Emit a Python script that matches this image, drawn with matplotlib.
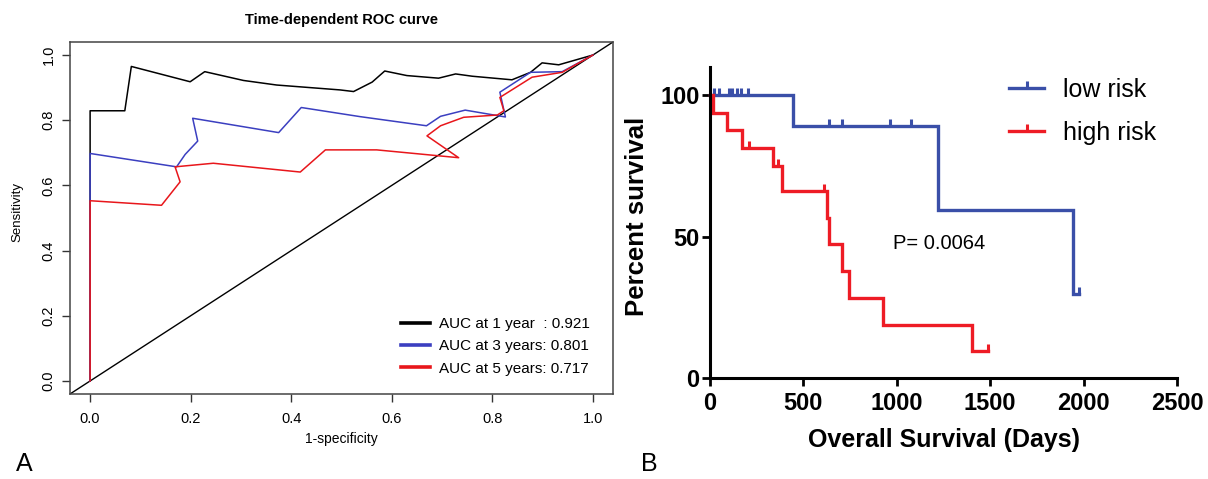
import matplotlib
matplotlib.use('Agg')
import matplotlib.pyplot as plt
from matplotlib.lines import Line2D
import numpy as np

plt.rcParams['font.family'] = ['Liberation Sans', 'DejaVu Sans']

# ---- panel A: time-dependent ROC (1-specificity, sensitivity) ----
fpr_1y = [0, 0, 0.069, 0.082, 0.199, 0.228, 0.305, 0.371, 0.497, 0.524, 0.561,
          0.586, 0.630, 0.693, 0.727, 0.760, 0.839, 0.876, 0.899, 0.932, 1.0]
tpr_1y = [0, 0.829, 0.829, 0.965, 0.918, 0.949, 0.922, 0.908, 0.893, 0.888, 0.917,
          0.951, 0.937, 0.929, 0.942, 0.935, 0.924, 0.947, 0.976, 0.970, 1.0]

fpr_3y = [0, 0, 0.172, 0.189, 0.214, 0.204, 0.375, 0.420, 0.537, 0.669, 0.697,
          0.746, 0.826, 0.815, 0.876, 0.939, 1.0]
tpr_3y = [0, 0.698, 0.657, 0.695, 0.736, 0.806, 0.762, 0.839, 0.811, 0.783, 0.812,
          0.831, 0.810, 0.886, 0.947, 0.949, 1.0]

fpr_5y = [0, 0, 0.142, 0.179, 0.169, 0.245, 0.418, 0.468, 0.570, 0.733, 0.670,
          0.697, 0.743, 0.810, 0.823, 0.815, 0.879, 0.939, 1.0]
tpr_5y = [0, 0.553, 0.539, 0.611, 0.657, 0.668, 0.641, 0.709, 0.709, 0.685, 0.752,
          0.783, 0.809, 0.816, 0.829, 0.870, 0.932, 0.947, 1.0]

roc_labels = ['AUC at 1 year  : 0.921', 'AUC at 3 years: 0.801', 'AUC at 5 years: 0.717']
roc_colors = ['black', '#3b3fc0', '#e8161b']

# ---- panel B: Kaplan-Meier ----
low_time = [0, 443, 1222, 1941, 1975]
low_surv = [100, 88.9, 59.3, 29.6, 29.6]
low_cens = [20, 50, 100, 120, 145, 165, 205, 637, 708, 964, 1074, 1975]

high_time = [0, 14, 89, 170, 339, 384, 625, 639, 705, 746, 926, 1402, 1487]
high_surv = [100, 93.8, 87.5, 81.3, 75.0, 66.0, 56.6, 47.2, 37.8, 28.3, 18.9, 9.4, 9.4]
high_cens = [209, 362, 610, 1487]

km_blue = '#3a4fa8'
km_red = '#ee1c25'

W, H = 1208, 479
fig = plt.figure(figsize=(W / 100, H / 100), dpi=100)


def fx(px):
    return px / W


def fy(py):
    return 1 - py / H


# ---------------- panel A ----------------
ax1 = fig.add_axes([fx(70), fy(394), fx(613) - fx(70), fy(42) - fy(394)])
ax1.set_xlim(-0.04, 1.04)
ax1.set_ylim(-0.04, 1.04)
ax1.plot([-0.04, 1.04], [-0.04, 1.04], color='black', lw=1.0)
for xs, ys, c in zip([fpr_1y, fpr_3y, fpr_5y], [tpr_1y, tpr_3y, tpr_5y], roc_colors):
    ax1.plot(xs, ys, color=c, lw=1.1)

ticks = [0, 0.2, 0.4, 0.6, 0.8, 1.0]
ax1.set_xticks(ticks)
ax1.set_yticks(ticks)
ax1.set_xticklabels(['%.1f' % t for t in ticks])
ax1.set_yticklabels(['%.1f' % t for t in ticks], rotation=90, va='center')
ax1.tick_params(axis='x', length=6, width=1, color='#333333', labelsize=10.5, pad=7)
ax1.tick_params(axis='y', length=6, width=1, color='#333333', labelsize=10.5, pad=4.5)
for s in ax1.spines.values():
    s.set_color('#444444')
    s.set_linewidth(1.1)

handles = [Line2D([], [], color=c, lw=2.6) for c in roc_colors]
ax1.legend(handles, roc_labels, loc='upper left', frameon=False,
           bbox_to_anchor=(fx(401), fy(317)), bbox_transform=fig.transFigure,
           fontsize=11, handlelength=1.9, handletextpad=0.6, labelspacing=0.55,
           borderpad=0, borderaxespad=0)

fig.text(fx(341), fy(20), 'Time-dependent ROC curve', fontsize=10.5,
         fontweight='bold', ha='center', va='center')
fig.text(fx(341), fy(439), '1-specificity', fontsize=10, ha='center', va='center')
fig.text(fx(17), fy(212), 'Sensitivity', fontsize=9.5, rotation=90,
         ha='center', va='center')
fig.text(fx(24), fy(464), 'A', fontsize=18, ha='center', va='center')

# ---------------- panel B ----------------
ax2 = fig.add_axes([fx(710), fy(378), fx(1177) - fx(710), fy(66.7) - fy(378)])
ax2.set_xlim(0, 2500)
ax2.set_ylim(0, 110)


def surv_at(t, times, surv):
    idx = np.searchsorted(times, t, side='right') - 1
    return np.asarray(surv)[idx]


for tt, ss, cc, col in [(low_time, low_surv, low_cens, km_blue),
                        (high_time, high_surv, high_cens, km_red)]:
    ax2.step(tt, ss, where='post', color=col, lw=2.4, clip_on=False,
             solid_joinstyle='miter')
    ax2.plot(cc, surv_at(cc, tt, ss), linestyle='none', marker=2, markersize=5,
             mew=2.2, color=col, clip_on=False)

ax2.spines['top'].set_visible(False)
ax2.spines['right'].set_visible(False)
ax2.spines['left'].set_linewidth(2.2)
ax2.spines['bottom'].set_linewidth(2.2)
ax2.set_xticks([0, 500, 1000, 1500, 2000, 2500])
ax2.set_yticks([0, 50, 100])
ax2.tick_params(axis='x', length=6, width=2, labelsize=17, pad=4)
ax2.tick_params(axis='y', length=6, width=2, labelsize=17, pad=1.5)
plt.setp(ax2.get_xticklabels() + ax2.get_yticklabels(), fontweight='bold')

km_handles = [Line2D([], [], color=km_blue, lw=2.4, marker=2, markersize=5, mew=2.2),
              Line2D([], [], color=km_red, lw=2.4, marker=2, markersize=5, mew=2.2)]
ax2.legend(km_handles, ['low risk', 'high risk'], loc='upper left', frameon=False,
           bbox_to_anchor=(fx(1009), fy(78)), bbox_transform=fig.transFigure,
           fontsize=18, handlelength=1.4, handletextpad=0.75, labelspacing=0.75,
           borderpad=0, borderaxespad=0, numpoints=1)

fig.text(fx(893), fy(243), 'P= 0.0064', fontsize=14.5, ha='left', va='center')
fig.text(fx(944), fy(440), 'Overall Survival (Days)', fontsize=18,
         fontweight='bold', ha='center', va='center')
fig.text(fx(637), fy(216), 'Percent survival', fontsize=18.5, fontweight='bold',
         rotation=90, ha='center', va='center')
fig.text(fx(649), fy(464), 'B', fontsize=18, ha='center', va='center')

fig.savefig('out.png', dpi=100)
